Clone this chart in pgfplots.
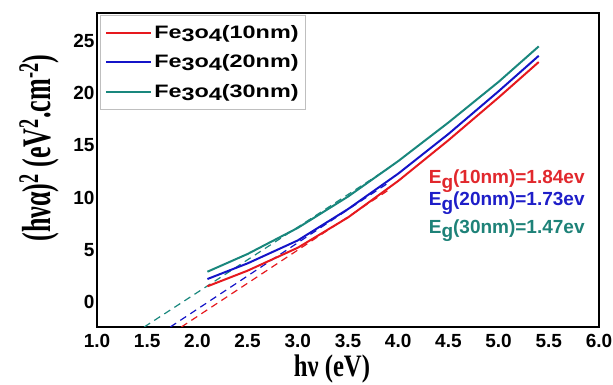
\documentclass[border=0pt]{standalone}
\usepackage{fontspec}
\setmainfont{Liberation Sans}
\newfontfamily\serifb{Liberation Serif}
\usepackage{pgfplots}
\pgfplotsset{compat=1.18}
\definecolor{cred}{RGB}{230,25,30}
\definecolor{cblue}{RGB}{20,20,200}
\definecolor{cteal}{RGB}{25,135,125}
\definecolor{tred}{RGB}{225,40,45}
\definecolor{tblue}{RGB}{30,30,200}
\definecolor{tteal}{RGB}{30,130,120}
\begin{document}
\begin{tikzpicture}
\begin{axis}[
  scale only axis, width=502pt, height=314pt,
  xmin=1, xmax=6, ymin=-2.4, ymax=27.7,
  xtick={1,1.5,...,6}, ytick={0,5,10,15,20,25},
  major tick length=0pt,
  axis line style={line width=2pt},
  /pgf/number format/assume math mode=true,
  /pgf/number format/fixed, /pgf/number format/fixed zerofill,
  /pgf/number format/precision=1,
  xticklabel style={font=\fontsize{19}{19}\selectfont\bfseries, yshift=-4pt},
  yticklabel style={font=\fontsize{19}{19}\selectfont\bfseries, xshift=1pt},
  yticklabel={\pgfmathprintnumber[fixed,precision=0]{\tick}},
  xlabel={\scalebox{0.95}[1.2]{\fontsize{26}{26}\selectfont\serifb\bfseries hν (eV)}},
  xlabel style={at={(rel axis cs:0.468,-0.135)}, anchor=center, inner sep=0pt},
  ylabel={\scalebox{0.9}[1.4]{\fontsize{29}{29}\selectfont\serifb\bfseries (hνα)\textsuperscript{2} (eV\textsuperscript{2}.cm\textsuperscript{-2})}},
  ylabel style={at={(rel axis cs:-0.115,0.57)}, anchor=center},
  legend cell align=left,
  legend style={at={(rel axis cs:0,1)}, anchor=north west, xshift=3pt, yshift=-2pt,
    draw=gray!50, line width=0.6pt, inner xsep=5pt, inner ysep=8pt,
    row sep=11pt,
    font=\fontsize{18}{18}\selectfont\bfseries},
  legend image code/.code={\draw[#1, line width=2pt] (0pt,0pt) -- (45pt,0pt);},
]
\addplot[cred, line width=1.2pt, dash pattern=on 7pt off 5pt, forget plot] coordinates {(1.84,-2.4) (3.9,10.7)};
\addplot[cblue, line width=1.2pt, dash pattern=on 7pt off 5pt, forget plot] coordinates {(1.73,-2.4) (3.9,11.4)};
\addplot[cteal, line width=1.2pt, dash pattern=on 7pt off 5pt, forget plot] coordinates {(1.47,-2.4) (3.9,12.8)};
\addplot[cred, line width=2pt] coordinates {(2.1,1.5) (2.5,3.0) (3.0,5.2) (3.5,8.1) (4.0,11.6) (4.5,15.5) (5.0,19.6) (5.4,23.0)};
\addlegendentry{\scalebox{1.3}[1]{Fe\raisebox{-0.3ex}{3}o\raisebox{-0.3ex}{4}(10nm)}}
\addplot[cblue, line width=2pt] coordinates {(2.1,2.2) (2.5,3.7) (3.0,5.9) (3.5,8.9) (4.0,12.3) (4.5,16.1) (5.0,20.2) (5.4,23.6)};
\addlegendentry{\scalebox{1.3}[1]{Fe\raisebox{-0.3ex}{3}o\raisebox{-0.3ex}{4}(20nm)}}
\addplot[cteal, line width=2pt] coordinates {(2.1,2.9) (2.5,4.6) (3.0,7.1) (3.5,10.1) (4.0,13.5) (4.5,17.2) (5.0,21.1) (5.4,24.5)};
\addlegendentry{\scalebox{1.3}[1]{Fe\raisebox{-0.3ex}{3}o\raisebox{-0.3ex}{4}(30nm)}}
\node[anchor=base west, text=tred, font=\fontsize{19}{19}\selectfont\bfseries] at (axis cs:4.27,11.35) {E\raisebox{-0.45ex}{g}(10nm)=1.84ev};
\node[anchor=base west, text=tblue, font=\fontsize{19}{19}\selectfont\bfseries] at (axis cs:4.27,9.2) {E\raisebox{-0.45ex}{g}(20nm)=1.73ev};
\node[anchor=base west, text=tteal, font=\fontsize{19}{19}\selectfont\bfseries] at (axis cs:4.27,6.6) {E\raisebox{-0.45ex}{g}(30nm)=1.47ev};
\coordinate (sw) at (rel axis cs:0,0);
\coordinate (ne) at (rel axis cs:1,1);
\end{axis}
\pgfresetboundingbox
\path ([shift={(-97pt,-58pt)}]sw) rectangle ([shift={(14pt,13pt)}]ne);
\end{tikzpicture}
\end{document}
